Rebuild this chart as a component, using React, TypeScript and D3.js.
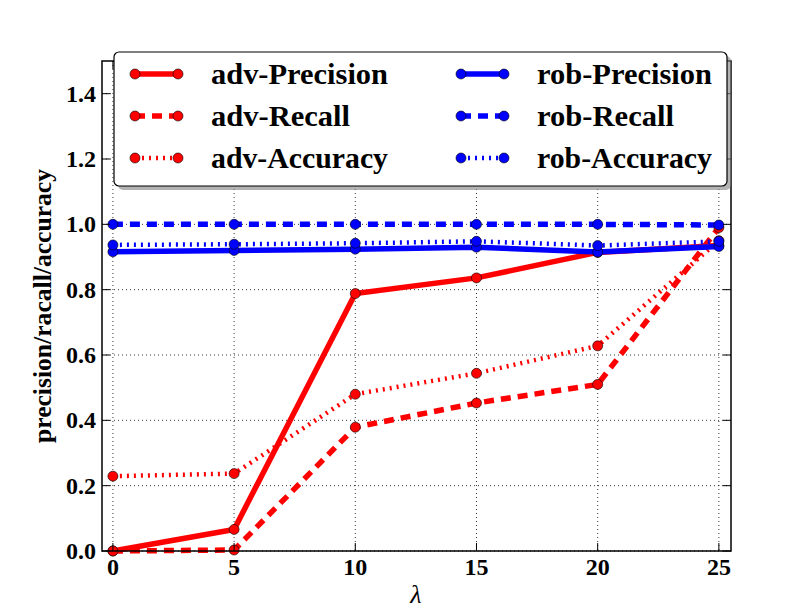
import React, { useRef, useEffect } from 'react';
import * as d3 from 'd3';

const lambdas = [0, 5, 10, 15, 20, 25];
const advPrecision = [0.0, 0.066, 0.788, 0.836, 0.914, 0.935];
const advRecall = [0.0, 0.003, 0.379, 0.453, 0.51, 0.99];
const advAccuracy = [0.229, 0.237, 0.48, 0.544, 0.628, 0.95];
const robPrecision = [0.916, 0.92, 0.924, 0.93, 0.915, 0.932];
const robRecall = [1.0, 1.0, 1.0, 1.0, 1.0, 0.998];
const robAccuracy = [0.937, 0.939, 0.942, 0.948, 0.935, 0.948];

const xTicks = [0, 5, 10, 15, 20, 25];
const yTicks = [0.0, 0.2, 0.4, 0.6, 0.8, 1.0, 1.2, 1.4];

interface Series {
  name: string;
  color: string;
  values: number[];
  width: number;
  dash: string | null;
  labelWidth: number;
}

const series: Series[] = [
  { name: 'adv-Precision', color: '#ff0000', values: advPrecision, width: 5.5, dash: null, labelWidth: 177 },
  { name: 'adv-Recall', color: '#ff0000', values: advRecall, width: 5.5, dash: '10,7', labelWidth: 139 },
  { name: 'adv-Accuracy', color: '#ff0000', values: advAccuracy, width: 4.5, dash: '2,5', labelWidth: 177 },
  { name: 'rob-Precision', color: '#0000ff', values: robPrecision, width: 5.5, dash: null, labelWidth: 175 },
  { name: 'rob-Recall', color: '#0000ff', values: robRecall, width: 5.5, dash: '10,7', labelWidth: 137 },
  { name: 'rob-Accuracy', color: '#0000ff', values: robAccuracy, width: 4.5, dash: '2,5', labelWidth: 175 },
];

const FONT = '"Liberation Serif", "DejaVu Serif", serif';

function Chart() {
  const svgRef = useRef<SVGSVGElement>(null);

  useEffect(() => {
    if (!svgRef.current) return;
    const width = 812;
    const height = 612;
    const svg = d3.select(svgRef.current);
    svg.selectAll('*').remove();

    const margin = { top: 61, right: 81, bottom: 61, left: 102 };
    const w = width - margin.left - margin.right;
    const h = height - margin.top - margin.bottom;

    const x = d3.scaleLinear().domain([-0.45, 25.5]).range([0, w]);
    const y = d3.scaleLinear().domain([0, 1.5]).range([h, 0]);

    svg.append('rect').attr('width', width).attr('height', height).attr('fill', '#fff');

    const g = svg.append('g').attr('transform', `translate(${margin.left},${margin.top})`);

    // grid
    xTicks.forEach((t) => {
      g.append('line')
        .attr('x1', x(t)).attr('x2', x(t)).attr('y1', 0).attr('y2', h)
        .attr('stroke', '#000').attr('stroke-width', 0.8).attr('stroke-dasharray', '1,3');
    });
    yTicks.forEach((t) => {
      g.append('line')
        .attr('x1', 0).attr('x2', w).attr('y1', y(t)).attr('y2', y(t))
        .attr('stroke', '#000').attr('stroke-width', 0.8).attr('stroke-dasharray', '1,3');
    });

    const line = d3.line<number>()
      .x((_, i) => x(lambdas[i]))
      .y((d) => y(d));

    series.forEach((s) => {
      g.append('path')
        .datum(s.values)
        .attr('fill', 'none')
        .attr('stroke', s.color)
        .attr('stroke-width', s.width)
        .attr('stroke-dasharray', s.dash)
        .attr('d', line);
      g.selectAll(null)
        .data(s.values)
        .enter()
        .append('circle')
        .attr('cx', (_, i) => x(lambdas[i]))
        .attr('cy', (d) => y(d))
        .attr('r', 5)
        .attr('fill', s.color)
        .attr('stroke', '#000')
        .attr('stroke-width', 0.6);
    });

    // frame
    g.append('rect')
      .attr('width', w).attr('height', h)
      .attr('fill', 'none').attr('stroke', '#000').attr('stroke-width', 1.5);

    // ticks inward on all sides
    xTicks.forEach((t) => {
      g.append('line').attr('x1', x(t)).attr('x2', x(t)).attr('y1', h).attr('y2', h - 8)
        .attr('stroke', '#000').attr('stroke-width', 1);
      g.append('line').attr('x1', x(t)).attr('x2', x(t)).attr('y1', 0).attr('y2', 8)
        .attr('stroke', '#000').attr('stroke-width', 1);
      g.append('text')
        .attr('x', x(t)).attr('y', h + 24)
        .attr('text-anchor', 'middle')
        .attr('font-family', FONT).attr('font-weight', 'bold').attr('font-size', 24)
        .text(String(t));
    });
    yTicks.forEach((t) => {
      g.append('line').attr('x1', 0).attr('x2', 8).attr('y1', y(t)).attr('y2', y(t))
        .attr('stroke', '#000').attr('stroke-width', 1);
      g.append('line').attr('x1', w).attr('x2', w - 8).attr('y1', y(t)).attr('y2', y(t))
        .attr('stroke', '#000').attr('stroke-width', 1);
      g.append('text')
        .attr('x', -6).attr('y', y(t) + 8)
        .attr('text-anchor', 'end')
        .attr('font-family', FONT).attr('font-weight', 'bold').attr('font-size', 24)
        .text(t.toFixed(1));
    });

    // axis labels
    svg.append('text')
      .attr('x', margin.left + x(12.5)).attr('y', 603)
      .attr('text-anchor', 'middle')
      .attr('font-family', FONT).attr('font-style', 'italic').attr('font-size', 26)
      .text('λ');
    svg.append('text')
      .attr('transform', `translate(51,${margin.top + h / 2}) rotate(-90)`)
      .attr('text-anchor', 'middle')
      .attr('font-family', FONT).attr('font-weight', 'bold').attr('font-size', 25)
      .attr('textLength', 274).attr('lengthAdjust', 'spacingAndGlyphs')
      .text('precision/racall/accuracy');

    // legend
    const lx = 114;
    const ly = 52;
    const lw = 613;
    const lh = 134;
    svg.append('rect')
      .attr('x', lx + 4).attr('y', ly + 4).attr('width', lw).attr('height', lh)
      .attr('rx', 5).attr('fill', '#808080').attr('opacity', 0.6);
    svg.append('rect')
      .attr('x', lx).attr('y', ly).attr('width', lw).attr('height', lh)
      .attr('rx', 5).attr('fill', '#fff').attr('stroke', '#000').attr('stroke-width', 1.2);

    const colX = [135, 461];
    const rowY = [74, 116, 158];
    series.forEach((s, i) => {
      const col = Math.floor(i / 3);
      const row = i % 3;
      const x0 = colX[col];
      const x1 = x0 + 43;
      const yy = rowY[row];
      svg.append('line')
        .attr('x1', x0).attr('x2', x1).attr('y1', yy).attr('y2', yy)
        .attr('stroke', s.color).attr('stroke-width', s.width)
        .attr('stroke-dasharray', s.dash);
      [x0, x1].forEach((cx) => {
        svg.append('circle')
          .attr('cx', cx).attr('cy', yy).attr('r', 5)
          .attr('fill', s.color).attr('stroke', '#000').attr('stroke-width', 0.6);
      });
      svg.append('text')
        .attr('x', x0 + 76).attr('y', yy + 10)
        .attr('font-family', FONT).attr('font-weight', 'bold').attr('font-size', 29)
        .attr('textLength', s.labelWidth).attr('lengthAdjust', 'spacingAndGlyphs')
        .text(s.name);
    });
  }, []);

  return <svg ref={svgRef} width={812} height={612} style={{ display: 'block' }} />;
}

export default function App() {
  return (
    <div style={{ margin: -8 }}>
      <Chart />
    </div>
  );
}
